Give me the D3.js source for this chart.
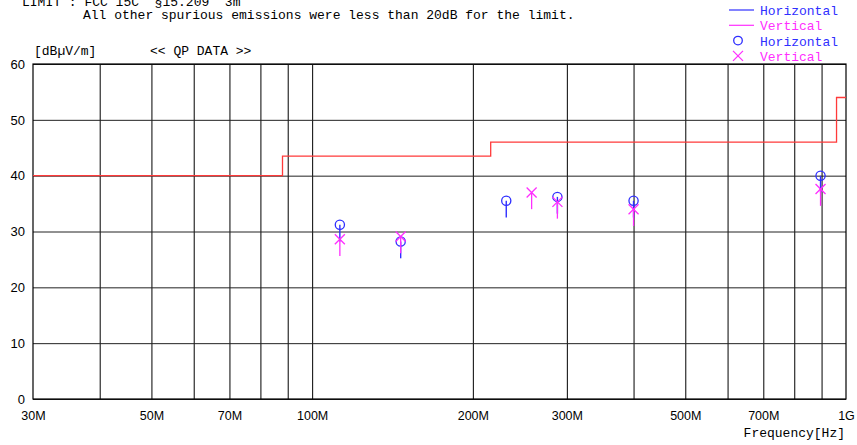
<!DOCTYPE html>
<html>
<head>
<meta charset="utf-8" />
<script src="https://d3js.org/d3.v7.min.js"></script>
<style>
  body { margin: 0; background: #fff; }
  svg { display: block; }
  .mono { font-family: "Liberation Mono", "DejaVu Sans Mono", monospace; font-size: 13px; }
  .tick text { font-family: "Liberation Sans", Arial, sans-serif; }
</style>
</head>
<body>
<svg id="chart" width="857" height="445"></svg>
<script>
// limit line (FCC 15C 15.209, 3m), step after each frequency
const limitFreq = [30, 88, 216, 960, 1000];
const limitLevel = [40, 43.5, 46, 54, 54];

// QP data, horizontal polarisation
const hFreq = [112.7, 146.5, 231, 288, 400, 896];
const hLevel = [31.2, 28.2, 35.5, 36.2, 35.5, 40.0];

// QP data, vertical polarisation
const vFreq = [112.7, 146.5, 257.7, 288, 400, 896];
const vLevel = [28.6, 29.1, 37.0, 35.3, 34.0, 37.6];

// axis ticks
const gridFreq = [40, 50, 60, 70, 80, 90, 100, 200, 300, 400, 500, 600, 700, 800, 900];
const labelFreq = [30, 50, 70, 100, 200, 300, 500, 700, 1000];
const labelText = ["30M", "50M", "70M", "100M", "200M", "300M", "500M", "700M", "1G"];
const levelTicks = [0, 10, 20, 30, 40, 50, 60];

const stickDb = 3; // marker stem length
const blue = "#2f2fff";
const magenta = "#ff2eff";
const red = "#ff3a3a";

const svg = d3.select("#chart");
const plotL = 33, plotR = 846, plotT = 64, plotB = 399;

const x = d3.scaleLog().domain([30, 1000]).range([plotL, plotR]);
const y = d3.scaleLinear().domain([0, 60]).range([plotB, plotT]);

// vertical grid
svg.append("g")
    .attr("transform", `translate(0,${plotB})`)
    .call(d3.axisBottom(x).tickValues(gridFreq).tickSize(-(plotB - plotT)).tickFormat(""))
    .call(g => g.select(".domain").remove())
    .call(g => g.selectAll("line").attr("stroke", "#000"));

// horizontal grid + labels
svg.append("g")
    .attr("transform", `translate(${plotL},0)`)
    .call(d3.axisLeft(y).tickValues(levelTicks).tickSize(-(plotR - plotL)).tickPadding(8))
    .call(g => g.select(".domain").remove())
    .call(g => g.selectAll("line").attr("stroke", "#222"))
    .call(g => g.selectAll("text").attr("font-size", 13).attr("fill", "#000"));

// x labels
svg.append("g")
    .attr("transform", `translate(0,${plotB})`)
    .call(d3.axisBottom(x).tickValues(labelFreq).tickSize(0).tickPadding(12)
        .tickFormat((d, i) => labelText[i]))
    .call(g => g.select(".domain").remove())
    .call(g => g.selectAll("text").attr("font-size", 12.5).attr("fill", "#000"));

// frame
svg.append("rect")
    .attr("x", plotL).attr("y", plotT)
    .attr("width", plotR - plotL).attr("height", plotB - plotT)
    .attr("fill", "none").attr("stroke", "#000").attr("stroke-width", 1.2);

// limit line
svg.append("path")
    .datum(limitFreq.map((f, i) => [f, limitLevel[i]]))
    .attr("fill", "none")
    .attr("stroke", red)
    .attr("stroke-width", 1.3)
    .attr("d", d3.line().x(d => x(d[0])).y(d => y(d[1])).curve(d3.curveStepAfter));

// horizontal: circles with stems
const hData = hFreq.map((f, i) => [f, hLevel[i]]);
svg.append("g").selectAll("line").data(hData).join("line")
    .attr("x1", d => x(d[0])).attr("x2", d => x(d[0]))
    .attr("y1", d => y(d[1])).attr("y2", d => y(d[1] - stickDb))
    .attr("stroke", blue).attr("stroke-width", 1.4);
svg.append("g").selectAll("circle").data(hData).join("circle")
    .attr("cx", d => x(d[0])).attr("cy", d => y(d[1])).attr("r", 4.6)
    .attr("fill", "none").attr("stroke", blue).attr("stroke-width", 1.3);

// vertical: crosses with stems
const vData = vFreq.map((f, i) => [f, vLevel[i]]);
const vg = svg.append("g").selectAll("g").data(vData).join("g")
    .attr("transform", d => `translate(${x(d[0])},${y(d[1])})`)
    .attr("stroke", magenta).attr("stroke-width", 1.3);
vg.append("line").attr("x1", 0).attr("x2", 0).attr("y1", 0).attr("y2", d => y(d[1] - stickDb) - y(d[1]));
vg.append("line").attr("x1", -5).attr("x2", 5).attr("y1", -5).attr("y2", 5);
vg.append("line").attr("x1", -5).attr("x2", 5).attr("y1", 5).attr("y2", -5);

// header texts
svg.append("text").attr("class", "mono").attr("x", 22).attr("y", 6)
    .style("white-space", "pre").text("LIMIT : FCC 15C  \u00a715.209  3m");
svg.append("text").attr("class", "mono").attr("x", 83).attr("y", 19)
    .text("All other spurious emissions were less than 20dB for the limit.");
svg.append("text").attr("class", "mono").attr("x", 34).attr("y", 55).text("[dB\u00b5V/m]");
svg.append("text").attr("class", "mono").attr("x", 150).attr("y", 55).text("<< QP DATA >>");
svg.append("text").attr("class", "mono").attr("x", 845).attr("y", 437)
    .attr("text-anchor", "end").text("Frequency[Hz]");

// legend
const legend = [
    { kind: "line", color: blue, label: "Horizontal" },
    { kind: "line", color: magenta, label: "Vertical" },
    { kind: "circle", color: blue, label: "Horizontal" },
    { kind: "cross", color: magenta, label: "Vertical" }
];
const lg = svg.append("g").selectAll("g").data(legend).join("g")
    .attr("transform", (d, i) => `translate(729,${10 + i * 15.3})`);
lg.filter(d => d.kind === "line").append("line")
    .attr("x1", 0).attr("x2", 25).attr("y1", 0).attr("y2", 0)
    .attr("stroke", d => d.color).attr("stroke-width", 1.2);
lg.filter(d => d.kind === "circle").append("circle")
    .attr("cx", 9).attr("cy", 0).attr("r", 4.3)
    .attr("fill", "none").attr("stroke", d => d.color).attr("stroke-width", 1.3);
lg.filter(d => d.kind === "cross").each(function(d) {
    const g = d3.select(this);
    g.append("line").attr("x1", 4).attr("x2", 14).attr("y1", -5).attr("y2", 5).attr("stroke", d.color).attr("stroke-width", 1.2);
    g.append("line").attr("x1", 4).attr("x2", 14).attr("y1", 5).attr("y2", -5).attr("stroke", d.color).attr("stroke-width", 1.2);
});
lg.append("text").attr("class", "mono")
    .attr("x", 31).attr("y", 5)
    .attr("fill", d => d.color)
    .text(d => d.label);
</script>
</body>
</html>
